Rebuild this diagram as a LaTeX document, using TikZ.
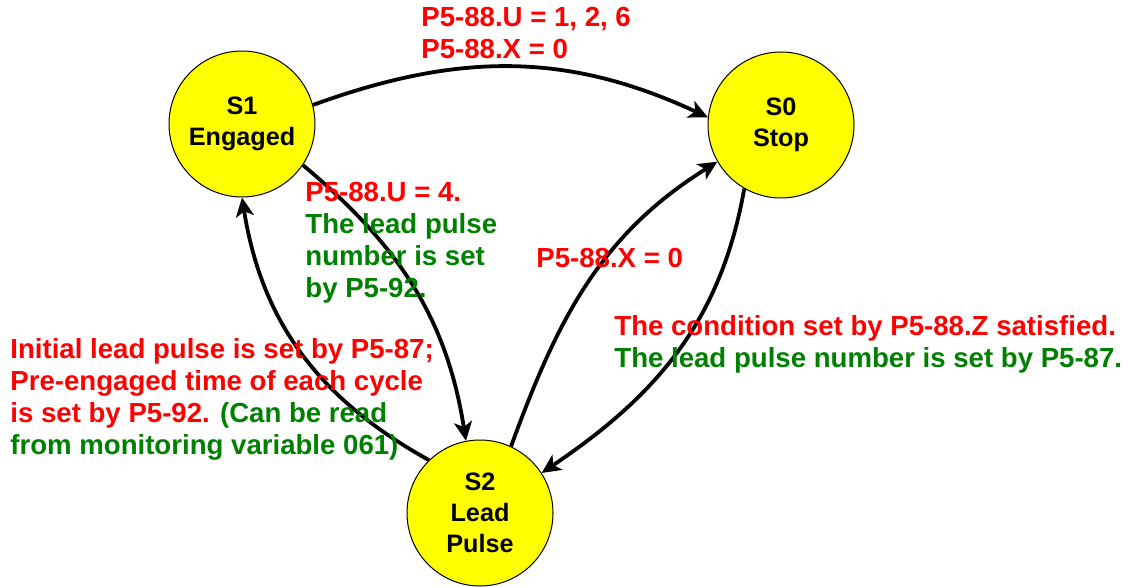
\documentclass[tikz,border=0pt]{standalone}
\usepackage{fontspec}
\setmainfont{Liberation Sans}
\usetikzlibrary{arrows.meta}
\definecolor{txtred}{RGB}{255,0,0}
\definecolor{txtgreen}{RGB}{0,128,0}
\definecolor{stfill}{RGB}{255,255,0}
\begin{document}
\begin{tikzpicture}[
  x=0.5pt, y=-0.5pt,
  state/.style={circle, draw=black, fill=stfill, line width=0.5pt, inner sep=0pt, minimum size=73pt, align=center, font=\bfseries\fontsize{12.6pt}{15.5pt}\selectfont},
  trans/.style={line width=1.9pt, draw=black, -{Stealth[length=9.5pt, width=9pt, inset=2.5pt]}},
  lbl/.style={anchor=north west, inner sep=0pt, align=left, font=\bfseries\fontsize{13.8pt}{16pt}\selectfont}
]
  \useasboundingbox (0,0) rectangle (1130,587);

  % Estados
  \node[state] (s1) at (242,124) {S1\\Engaged};
  \node[state] (s0) at (781,125) {S0\\Stop};
  \node[state] (s2) at (480,513) {S2\\Lead\\Pulse};

  % Transiciones entre estados
  \draw[trans] (s1.15) to[out=20, in=155] (s0.174);
  \draw[trans] (s1.-34) to[out=-40, in=99] (s2.101);
  \draw[trans] (s2.134) to[out=151, in=-81] (s1.-90);
  \draw[trans] (s2.65) to[out=70, in=212] (s0.210);
  \draw[trans] (s0.-120) to[out=-100, in=34] (s2.33);

  % Condiciones de cada transición
  \node[lbl, text=txtred] (l10) at (421,7) {P5-88.U = 1, 2, 6\\P5-88.X = 0};
  \node[lbl] (l12) at (305,182) {\textcolor{txtred}{P5-88.U = 4.}\\
    \textcolor{txtgreen}{The lead pulse}\\
    \textcolor{txtgreen}{number is set}\\
    \textcolor{txtgreen}{by P5-92.}};
  \node[lbl, text=txtred] (l20) at (536,248) {P5-88.X = 0};
  \node[lbl] (l21) at (10,338) {\textcolor{txtred}{Initial lead pulse is set by P5-87;}\\
    \textcolor{txtred}{Pre-engaged time of each cycle}\\
    \textcolor{txtred}{is set by P5-92.} \textcolor{txtgreen}{(Can be read}\\
    \textcolor{txtgreen}{from monitoring variable 061)}};
  \node[lbl] (l02) at (614,315) {\textcolor{txtred}{The condition set by P5-88.Z satisfied.}\\
    \textcolor{txtgreen}{The lead pulse number is set by P5-87.}};
\end{tikzpicture}
\end{document}
